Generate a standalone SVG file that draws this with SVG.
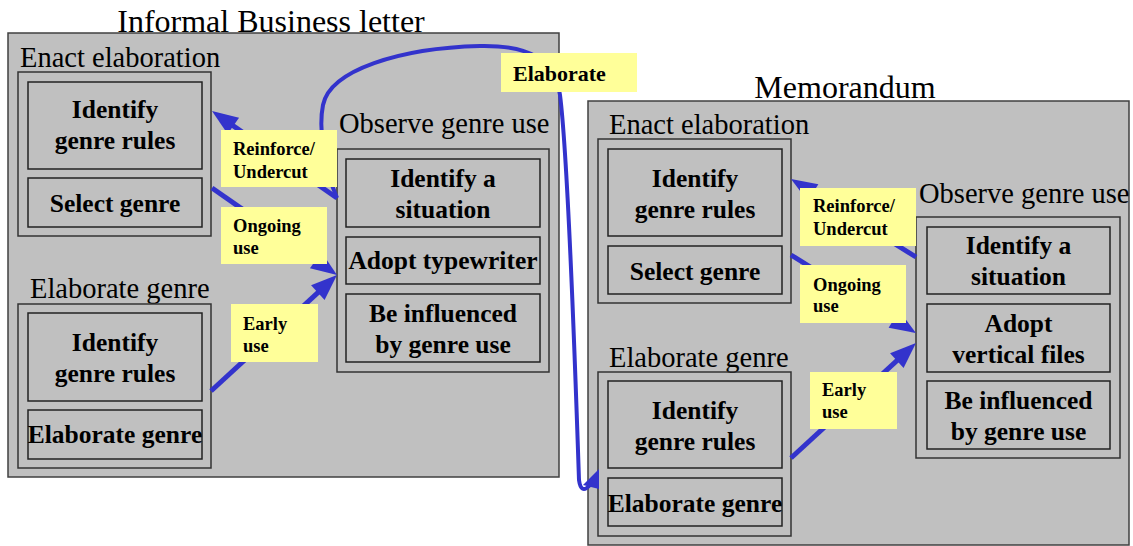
<svg xmlns="http://www.w3.org/2000/svg" width="1133" height="546" viewBox="0 0 1133 546">
<style>
.panel{fill:#C0C0C0;stroke:#404040;stroke-width:1.5}
.grp{fill:none;stroke:#333333;stroke-width:1.5}
.box{fill:none;stroke:#222222;stroke-width:1.5}
.title{font-family:"Liberation Serif","Times New Roman",serif;font-size:32px;fill:#000}
.sec{font-family:"Liberation Serif","Times New Roman",serif;font-size:28.5px;fill:#000}
.bt{font-family:"Liberation Serif","Times New Roman",serif;font-size:25.5px;font-weight:bold;fill:#000;text-anchor:middle}
.lab{fill:#FFFF99;stroke:none}
.lt{font-family:"Liberation Serif","Times New Roman",serif;font-size:18.5px;font-weight:bold;fill:#000}
.conn{fill:none;stroke:#3333CC;stroke-width:5;marker-end:url(#ah)}
.curve{fill:none;stroke:#3333CC;stroke-width:4}
</style>
<defs>
<marker id="ah" viewBox="0 0 26 20" refX="16" refY="10" markerWidth="26" markerHeight="20" markerUnits="userSpaceOnUse" orient="auto" overflow="visible">
<path d="M0,0 L26,10 L0,20 z" fill="#3333CC"/>
</marker>
</defs>
<rect width="1133" height="546" fill="#FFFFFF"/>

<g id="panel-informal">
<rect class="panel" x="8" y="33" width="551" height="444"/>
<text class="title" x="271" y="32" text-anchor="middle">Informal Business letter</text>
</g>
<g id="panel-memorandum">
<rect class="panel" x="588" y="101" width="541" height="444"/>
<text class="title" x="845" y="98" text-anchor="middle">Memorandum</text>
</g>

<g id="L-enact">
<text class="sec" x="20" y="67">Enact elaboration</text>
<rect class="grp" x="18" y="72" width="193" height="164"/>
</g>
<g id="L-enact-identify">
<rect class="box" x="28" y="82" width="174" height="87"/>
<text class="bt" x="115" y="118">Identify</text>
<text class="bt" x="115" y="149">genre rules</text>
</g>
<g id="L-enact-select">
<rect class="box" x="28" y="178" width="174" height="49"/>
<text class="bt" x="115" y="212">Select genre</text>
</g>
<g id="L-elab">
<text class="sec" x="30" y="298">Elaborate genre</text>
<rect class="grp" x="18" y="304" width="193" height="164"/>
</g>
<g id="L-elab-identify">
<rect class="box" x="28" y="313" width="174" height="88"/>
<text class="bt" x="115" y="351">Identify</text>
<text class="bt" x="115" y="382">genre rules</text>
</g>
<g id="L-elab-elaborate">
<rect class="box" x="28" y="410" width="174" height="49"/>
<text class="bt" x="115" y="443">Elaborate genre</text>
</g>
<g id="L-observe">
<text class="sec" x="339" y="133">Observe genre use</text>
<rect class="grp" x="337" y="149" width="212" height="223"/>
</g>
<g id="L-obs-situation">
<rect class="box" x="346" y="159" width="194" height="68"/>
<text class="bt" x="443" y="187">Identify a</text>
<text class="bt" x="443" y="218">situation</text>
</g>
<g id="L-obs-adopt">
<rect class="box" x="346" y="237" width="194" height="47"/>
<text class="bt" x="443" y="269">Adopt typewriter</text>
</g>
<g id="L-obs-influenced">
<rect class="box" x="346" y="294" width="194" height="68"/>
<text class="bt" x="443" y="322">Be influenced</text>
<text class="bt" x="443" y="353">by genre use</text>
</g>

<g id="R-enact">
<text class="sec" x="609" y="134">Enact elaboration</text>
<rect class="grp" x="598" y="139" width="193" height="164"/>
</g>
<g id="R-enact-identify">
<rect class="box" x="608" y="149" width="174" height="87"/>
<text class="bt" x="695" y="187">Identify</text>
<text class="bt" x="695" y="218">genre rules</text>
</g>
<g id="R-enact-select">
<rect class="box" x="608" y="246" width="174" height="48"/>
<text class="bt" x="695" y="280">Select genre</text>
</g>
<g id="R-elab">
<text class="sec" x="609" y="367">Elaborate genre</text>
<rect class="grp" x="598" y="372" width="193" height="164"/>
</g>
<g id="R-elab-identify">
<rect class="box" x="608" y="381" width="174" height="87"/>
<text class="bt" x="695" y="419">Identify</text>
<text class="bt" x="695" y="450">genre rules</text>
</g>
<g id="R-elab-elaborate">
<rect class="box" x="608" y="478" width="174" height="48"/>
<text class="bt" x="695" y="512">Elaborate genre</text>
</g>
<g id="R-observe">
<text class="sec" x="919" y="203">Observe genre use</text>
<rect class="grp" x="916" y="217" width="204" height="241"/>
</g>
<g id="R-obs-situation">
<rect class="box" x="927" y="227" width="183" height="67"/>
<text class="bt" x="1018.5" y="254">Identify a</text>
<text class="bt" x="1018.5" y="285">situation</text>
</g>
<g id="R-obs-adopt">
<rect class="box" x="927" y="304" width="183" height="68"/>
<text class="bt" x="1018.5" y="332">Adopt</text>
<text class="bt" x="1018.5" y="363">vertical files</text>
</g>
<g id="R-obs-influenced">
<rect class="box" x="927" y="381" width="183" height="68"/>
<text class="bt" x="1018.5" y="409">Be influenced</text>
<text class="bt" x="1018.5" y="440">by genre use</text>
</g>

<g id="connectors">
<line class="conn" x1="337" y1="198" x2="220.2" y2="116.7"/>
<line class="conn" x1="212" y1="188" x2="328.8" y2="269.3"/>
<line class="conn" x1="211" y1="391" x2="329.6" y2="281.8"/>
<line class="conn" x1="916" y1="257" x2="799.5" y2="184.3"/>
<line class="conn" x1="791" y1="255" x2="907.5" y2="327.7"/>
<line class="conn" x1="791" y1="458" x2="908.6" y2="349.8"/>
<path class="curve" d="M337,198 C325,170 318,130 323,105 C330,70 400,48 480,46 C530,45 555,60 560,95 C567,150 574,330 579,480 Q581,495 590,485"/>
<polygon points="599,469 599,489 583,485" fill="#3333CC"/>
</g>

<g id="labels">
<g id="lab-L-reinforce">
<rect class="lab" x="221" y="130" width="116" height="57"/>
<text class="lt" x="233" y="155">Reinforce/</text>
<text class="lt" x="233" y="178">Undercut</text>
</g>
<g id="lab-L-ongoing">
<rect class="lab" x="221" y="207" width="106" height="57"/>
<text class="lt" x="233" y="232">Ongoing</text>
<text class="lt" x="233" y="254">use</text>
</g>
<g id="lab-L-early">
<rect class="lab" x="231" y="304" width="87" height="58"/>
<text class="lt" x="243" y="330">Early</text>
<text class="lt" x="243" y="352">use</text>
</g>
<g id="lab-elaborate">
<rect class="lab" x="501" y="53" width="136" height="39"/>
<text class="lt" x="513" y="81" style="font-size:22px">Elaborate</text>
</g>
<g id="lab-R-reinforce">
<rect class="lab" x="800" y="188" width="116" height="58"/>
<text class="lt" x="813" y="212">Reinforce/</text>
<text class="lt" x="813" y="235">Undercut</text>
</g>
<g id="lab-R-ongoing">
<rect class="lab" x="800" y="265" width="106" height="58"/>
<text class="lt" x="813" y="291">Ongoing</text>
<text class="lt" x="813" y="312">use</text>
</g>
<g id="lab-R-early">
<rect class="lab" x="810" y="372" width="87" height="57"/>
<text class="lt" x="822" y="396">Early</text>
<text class="lt" x="822" y="418">use</text>
</g>
</g>
</svg>
